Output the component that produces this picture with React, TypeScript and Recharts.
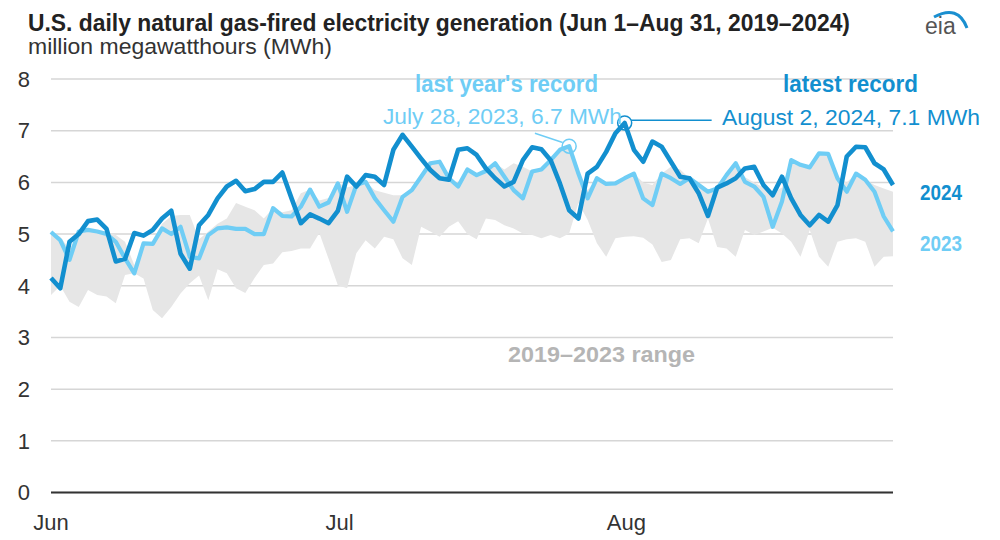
import React from "react"
import { ComposedChart, Area, Line, XAxis, YAxis, CartesianGrid, ReferenceDot, ReferenceLine } from "recharts"

// daily values, Jun 1 (index 0) .. Aug 31 (index 91), million MWh
const gen2024 = [
  4.15, 3.95, 4.85, 5.0, 5.25, 5.28, 5.1, 4.47, 4.52, 5.02, 4.97, 5.08, 5.3, 5.45, 4.62, 4.33,
  5.17, 5.37, 5.69, 5.92, 6.03, 5.83, 5.87, 6.01, 6.01, 6.19, 5.69, 5.21, 5.38, 5.3,
  5.21, 5.45, 6.11, 5.92, 6.14, 6.11, 5.95, 6.63, 6.92, 6.69, 6.46, 6.24, 6.08, 6.05, 6.63, 6.66,
  6.53, 6.27, 6.08, 5.92, 6.01, 6.43, 6.68, 6.64, 6.43, 5.98, 5.46, 5.3, 6.17, 6.3, 6.59,
  6.95, 7.15, 6.63, 6.4, 6.79, 6.69, 6.4, 6.11, 6.08, 5.79, 5.35, 5.9, 5.98, 6.08, 6.27, 6.3,
  5.95, 5.75, 6.11, 5.69, 5.37, 5.17, 5.37, 5.24, 5.56, 6.5, 6.69, 6.68, 6.37, 6.25, 5.95,
]
const gen2023 = [
  5.04, 4.88, 4.5, 5.05, 5.08, 5.05, 5.0, 4.85, 4.53, 4.24, 4.82, 4.81, 5.11, 5.0, 5.14, 4.56,
  4.53, 4.98, 5.11, 5.13, 5.1, 5.1, 5.0, 5.0, 5.5, 5.35, 5.34, 5.53, 5.86, 5.53,
  5.61, 5.98, 5.43, 5.95, 6.01, 5.69, 5.46, 5.24, 5.72, 5.85, 6.11, 6.37, 6.4, 6.08, 5.92, 6.25,
  6.14, 6.22, 6.37, 6.11, 5.85, 5.69, 6.21, 6.25, 6.43, 6.63, 6.7, 6.17, 5.69, 6.08, 5.97,
  5.98, 6.08, 6.17, 5.69, 5.56, 6.17, 6.08, 5.97, 6.08, 5.95, 5.82, 5.88, 6.14, 6.37, 6.01, 5.92,
  5.72, 5.14, 5.63, 6.43, 6.34, 6.29, 6.56, 6.55, 6.08, 5.82, 6.17, 6.05, 5.82, 5.34, 5.05,
]
// 2019-2023 min / max
const rangeLow = [
  3.82, 4.0, 3.69, 3.59, 3.92, 3.82, 3.79, 3.66, 4.21, 4.24, 4.14, 3.53, 3.37, 3.59, 3.85, 4.05,
  4.2, 3.72, 4.32, 4.24, 3.95, 3.86, 4.15, 4.4, 4.43, 4.65, 4.67, 4.72, 4.72, 5.02,
  4.52, 4.01, 3.95, 4.63, 4.88, 4.72, 4.95, 4.9, 4.53, 4.4, 5.14, 5.05, 4.95, 5.14, 5.25, 5.0,
  4.9, 5.3, 5.27, 5.17, 5.11, 5.01, 4.98, 4.92, 4.98, 4.92, 5.01, 5.6, 5.27, 4.82, 4.56,
  4.92, 4.95, 4.96, 4.93, 4.8, 4.46, 4.5, 4.9, 4.92, 4.82, 5.3, 4.75, 4.72, 4.56, 5.08, 4.98,
  5.05, 5.12, 5.01, 4.85, 4.56, 5.08, 4.56, 4.37, 4.85, 4.9, 4.92, 4.85, 4.37, 4.56, 4.57,
]
const rangeHigh = [
  5.05, 4.95, 4.7, 5.05, 5.1, 5.08, 5.05, 4.98, 4.85, 4.4, 4.85, 4.85, 5.2, 5.35, 5.37, 5.37,
  4.9, 5.05, 5.2, 5.3, 5.6, 5.53, 5.46, 5.3, 5.5, 5.42, 5.46, 5.79, 5.86, 5.65,
  5.7, 6.0, 5.9, 5.95, 6.01, 5.85, 5.8, 5.75, 5.75, 5.85, 6.11, 6.37, 6.4, 6.08, 5.95, 6.25,
  6.15, 6.22, 6.37, 6.25, 6.37, 6.3, 6.21, 6.25, 6.43, 6.63, 6.7, 6.17, 5.85, 6.08, 5.97,
  5.98, 6.08, 6.17, 6.0, 5.95, 6.17, 6.3, 6.25, 6.08, 6.0, 5.85, 5.88, 6.14, 6.37, 6.1, 6.0,
  5.9, 5.8, 5.9, 6.43, 6.34, 6.29, 6.56, 6.55, 6.08, 6.0, 6.17, 6.05, 5.95, 5.88, 5.82,
]

const monthTicks = [0, 30, 61]
const monthLabels = ["Jun", "Jul", "Aug"]
const yTicks = [0, 1, 2, 3, 4, 5, 6, 7, 8]

const DARK = "#128fcf"
const LIGHT = "#6fcdf5"
const FONT = "'Liberation Sans', Arial, sans-serif"

const data = gen2024.map((v, i) => ({
  day: i,
  y2024: v,
  y2023: gen2023[i],
  range: [rangeLow[i], rangeHigh[i]],
}))

const MonthTick = ({ x, y, payload }: any) => {
  const i = monthTicks.indexOf(payload.value)
  return (
    <text x={x + (i === 0 ? 0 : 11)} y={y + 35} textAnchor="middle" fontSize={22} fill="#333" fontFamily={FONT}>
      {monthLabels[i]}
    </text>
  )
}

export default function App() {
  return (
    <div style={{ position: "relative", width: 1000, height: 540, background: "#fff", fontFamily: FONT }}>
      <style>{`body{margin:0}`}</style>
      <ComposedChart width={1000} height={540} data={data} margin={{ top: 79, right: 107, bottom: 7.5, left: 0 }}>
        <CartesianGrid vertical={false} stroke="#d6d6d6" strokeWidth={1.5} />
        <XAxis type="number" dataKey="day" domain={[0, 91]} ticks={monthTicks} height={40}
          tick={<MonthTick />} tickLine={false} tickSize={0} axisLine={{ stroke: "#333", strokeWidth: 2 }} />
        <YAxis domain={[0, 8]} ticks={yTicks} width={51} axisLine={false} tickLine={false} tickSize={0} tickMargin={21}
          tick={{ fontSize: 22, fill: "#333", fontFamily: FONT }} />
        <Area dataKey="range" stroke="none" fill="#e6e6e6" fillOpacity={1} isAnimationActive={false} activeDot={false} />
        <Line dataKey="y2023" stroke={LIGHT} strokeWidth={4.2} dot={false} isAnimationActive={false} strokeLinejoin="round" />
        <Line dataKey="y2024" stroke={DARK} strokeWidth={4.6} dot={false} isAnimationActive={false} strokeLinejoin="round" />
        <ReferenceLine segment={[{ x: 52.3, y: 6.95 }, { x: 55.3, y: 6.77 }]} stroke={LIGHT} strokeWidth={1.5} />
        <ReferenceDot x={56} y={6.7} r={7} fill="none" stroke={LIGHT} strokeWidth={1.5} />
        <ReferenceLine segment={[{ x: 62.7, y: 7.2 }, { x: 71.4, y: 7.2 }]} stroke={DARK} strokeWidth={1.5} />
        <ReferenceDot x={62} y={7.15} r={7} fill="none" stroke={DARK} strokeWidth={1.5} />
      </ComposedChart>
      <svg width={1000} height={540} style={{ position: "absolute", left: 0, top: 0, pointerEvents: "none" }} fontFamily={FONT}>
        <text x={28} y={31} fontSize={23} fontWeight="bold" fill="#222" textLength={822} lengthAdjust="spacingAndGlyphs">
          U.S. daily natural gas-fired electricity generation (Jun 1–Aug 31, 2019–2024)
        </text>
        <text x={28} y={54} fontSize={22} fill="#333" textLength={304} lengthAdjust="spacingAndGlyphs">
          million megawatthours (MWh)
        </text>
        <text x={925} y={34} fontSize={23} fill="#555">eia</text>
        <path d="M 934 17 Q 958 4 967 28" fill="none" stroke="#1a8fd0" strokeWidth={3} />
        <text x={415} y={92} fontSize={23} fontWeight="bold" fill={LIGHT} textLength={183} lengthAdjust="spacingAndGlyphs">last year's record</text>
        <text x={383} y={124} fontSize={22} fill={LIGHT} textLength={239} lengthAdjust="spacingAndGlyphs">July 28, 2023, 6.7 MWh</text>
        <text x={783} y={92} fontSize={23} fontWeight="bold" fill={DARK} textLength={135} lengthAdjust="spacingAndGlyphs">latest record</text>
        <text x={722} y={125} fontSize={22} fill={DARK} textLength={258} lengthAdjust="spacingAndGlyphs">August 2, 2024, 7.1 MWh</text>
        <text x={920} y={200} fontSize={22} fontWeight="bold" fill={DARK} textLength={42} lengthAdjust="spacingAndGlyphs">2024</text>
        <text x={920} y={251} fontSize={22} fontWeight="bold" fill={LIGHT} textLength={42} lengthAdjust="spacingAndGlyphs">2023</text>
        <text x={508} y={362} fontSize={22} fontWeight="bold" fill="#b5b5b5" textLength={187} lengthAdjust="spacingAndGlyphs">2019–2023  range</text>
      </svg>
    </div>
  )
}
